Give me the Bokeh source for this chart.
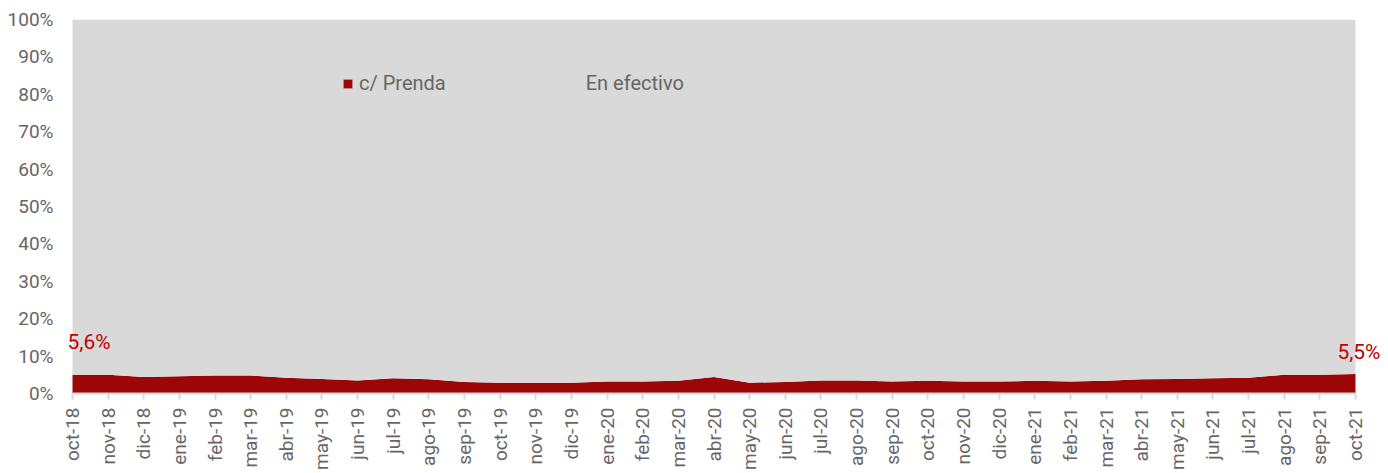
from bokeh.plotting import figure
from bokeh.models import ColumnDataSource, Label, FixedTicker, Legend, LegendItem
from bokeh.embed import file_html
from bokeh.resources import INLINE
from math import pi

months = ["oct-18","nov-18","dic-18","ene-19","feb-19","mar-19","abr-19","may-19","jun-19","jul-19",
          "ago-19","sep-19","oct-19","nov-19","dic-19","ene-20","feb-20","mar-20","abr-20","may-20",
          "jun-20","jul-20","ago-20","sep-20","oct-20","nov-20","dic-20","ene-21","feb-21","mar-21",
          "abr-21","may-21","jun-21","jul-21","ago-21","sep-21","oct-21"]
prenda = [5.0, 5.0, 4.4, 4.6, 4.8, 4.8, 4.2, 3.9, 3.5, 4.1,
          3.8, 3.1, 2.9, 2.9, 2.9, 3.2, 3.2, 3.4, 4.4, 2.9,
          3.1, 3.5, 3.5, 3.2, 3.4, 3.2, 3.2, 3.4, 3.2, 3.4,
          3.8, 3.9, 4.1, 4.2, 5.0, 5.0, 5.2]
efectivo = [100 - v for v in prenda]
label_first = "5,6%"
label_last = "5,5%"

n = len(months)
xs = list(range(n))
src = ColumnDataSource(dict(x=xs, prenda=prenda, efectivo=efectivo))

FONT = "Roboto"
GRAY_TXT = "#666666"
RED = "#9C0606"

# frame slightly wider than the data span so the end labels are not clipped
u = 1283 / (n - 1)
x0 = -9 / u
x1 = (n - 1) + 28 / u

p = figure(width=1385, height=470, output_backend="svg", toolbar_location=None,
           x_range=(x0, x1), y_range=(0, 100),
           frame_width=1320, frame_height=374,
           min_border_left=63, min_border_top=19, min_border_right=2, min_border_bottom=10)
p.outline_line_color = None
p.background_fill_color = "white"
p.border_fill_color = "white"
p.grid.visible = False

rs = p.varea_stack(["prenda", "efectivo"], x="x", source=src, color=[RED, "#D9D9D9"])

legend = Legend(items=[LegendItem(label="c/ Prenda", renderers=[rs[0]]),
                       LegendItem(label="En efectivo", renderers=[rs[1]])],
                orientation="horizontal", location=(279, 298),
                background_fill_alpha=0, border_line_color=None,
                glyph_width=11, glyph_height=11, label_standoff=6, spacing=123,
                label_text_font=FONT, label_text_font_size="20px", label_text_color=GRAY_TXT,
                padding=0, margin=0)
p.add_layout(legend, "center")

p.yaxis.ticker = FixedTicker(ticks=list(range(0, 101, 10)))
p.yaxis.major_label_overrides = {v: f"{v}%" for v in range(0, 101, 10)}
p.yaxis.axis_line_color = None
p.yaxis.major_tick_line_color = None
p.yaxis.major_tick_out = 0
p.yaxis.major_tick_in = 0
p.yaxis.minor_tick_line_color = None
p.yaxis.major_label_text_font = FONT
p.yaxis.major_label_text_font_size = "19px"
p.yaxis.major_label_text_color = GRAY_TXT
p.yaxis.major_label_standoff = 10

p.xaxis.ticker = FixedTicker(ticks=xs)
p.xaxis.bounds = (0, n - 1)
p.xaxis.major_label_overrides = {i: m for i, m in enumerate(months)}
p.xaxis.major_label_orientation = pi / 2
p.xaxis.axis_line_color = "#D9D9D9"
p.xaxis.axis_line_width = 2
p.xaxis.major_tick_line_color = "#D9D9D9"
p.xaxis.major_tick_line_width = 2
p.xaxis.major_tick_in = 0
p.xaxis.major_tick_out = 6
p.xaxis.minor_tick_line_color = None
p.xaxis.major_label_text_font = FONT
p.xaxis.major_label_text_font_size = "19px"
p.xaxis.major_label_text_color = GRAY_TXT
p.xaxis.major_label_standoff = 8

p.add_layout(Label(x=0, y=13.7, text=label_first, x_offset=-5, text_align="left",
                   text_baseline="alphabetic", text_font=FONT, text_font_size="21px",
                   text_color="#C00000"))
p.add_layout(Label(x=n - 1, y=11.0, text=label_last, x_offset=25, text_align="right",
                   text_baseline="alphabetic", text_font=FONT, text_font_size="21px",
                   text_color="#C00000"))

open("out.html", "w").write(file_html(p, INLINE))
